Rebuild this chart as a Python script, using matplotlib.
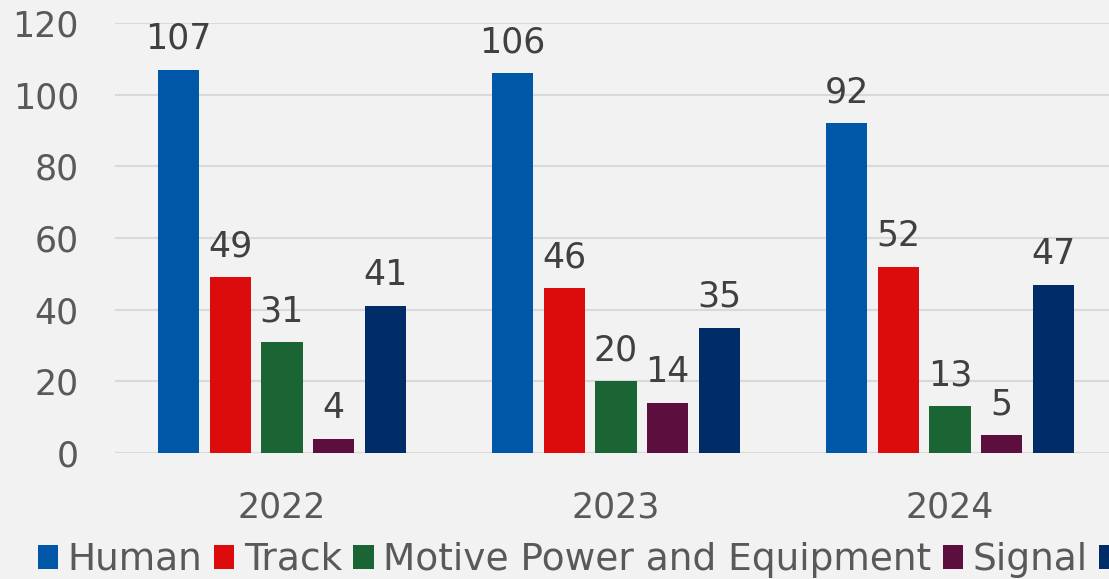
import matplotlib.pyplot as plt
import numpy as np

anos = ['2022', '2023', '2024']
series = ['Human', 'Track', 'Motive Power and Equipment', 'Signal', 'Miscellaneous']
human = [107, 106, 92]
track = [49, 46, 52]
motive = [31, 20, 13]
signal = [4, 14, 5]
misc = [41, 35, 47]
cores = ['#0057A8', '#DC0C0C', '#1B6535', '#5C0E3E', '#002D68']

valores = [human, track, motive, signal, misc]

fig = plt.figure(figsize=(11.09, 5.79), dpi=100, facecolor='#F2F2F2')
ax = fig.add_axes([115 / 1109, 126 / 579, 1002 / 1109, 430 / 579])
ax.set_facecolor('#F2F2F2')

x = np.arange(len(anos))
passo = 0.1545
largura = 0.123
barras = []
for i, (nome, v, c) in enumerate(zip(series, valores, cores)):
    b = ax.bar(x + (i - 2) * passo, v, width=largura, color=c, label=nome, zorder=3)
    ax.bar_label(b, padding=10, fontsize=25, color='#404040')
    barras.append(b)

ax.set_xlim(-0.5, 2.5)
ax.set_ylim(0, 120)
ax.set_yticks(range(0, 121, 20))
ax.set_xticks(x)
ax.set_xticklabels(anos)
ax.grid(axis='y', color='#D9D9D9', linewidth=1.5, zorder=0)
for s in ['top', 'right', 'left', 'bottom']:
    ax.spines[s].set_visible(False)
ax.tick_params(axis='y', length=0, pad=26, labelsize=25, labelcolor='#595959')
ax.tick_params(axis='x', length=0, pad=27, labelsize=25, labelcolor='#595959')

# legenda cortada na borda direita, igual ao original
leg = fig.legend(handles=barras, labels=series, loc='center left',
                 bbox_to_anchor=(0.034, 0.033), ncol=5, frameon=False,
                 fontsize=27, handlelength=0.55, handleheight=0.6,
                 handletextpad=0.25, columnspacing=0.3,
                 borderpad=0, borderaxespad=0)
for t in leg.get_texts():
    t.set_color('#595959')

fig.savefig('out.png', dpi=100, facecolor=fig.get_facecolor())
